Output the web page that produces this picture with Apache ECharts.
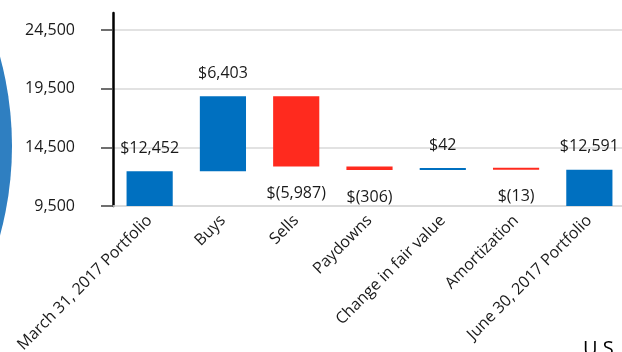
<!DOCTYPE html>
<html>
<head>
<meta charset="utf-8">
<script src="https://cdn.jsdelivr.net/npm/echarts@6/dist/echarts.min.js"></script>
<style>
  html, body { margin: 0; padding: 0; background: #fff; }
  #chart { width: 622px; height: 352px; }
</style>
</head>
<body>
<div id="chart"></div>
<script>
// Portfolio roll-forward, $ thousands
const categories = [
  'March 31, 2017 Portfolio', 'Buys', 'Sells', 'Paydowns',
  'Change in fair value', 'Amortization', 'June 30, 2017 Portfolio'
];
const changes = [12452, 6403, -5987, -306, 42, -13, 12591];
const isTotal = [true, false, false, false, false, false, true];
const yTickValues = [9500, 14500, 19500, 24500];

const BLUE = '#0070c0';
const RED = '#ff2a1e';
const FONT = 'Open Sans';

// Build the invisible base + visible step for each column
const baseData = [];
const stepData = [];
let running = 0;
changes.forEach((v, i) => {
  if (isTotal[i]) {
    baseData.push(0);
    stepData.push({ value: v, itemStyle: { color: BLUE } });
    running = v;
  } else {
    const next = running + v;
    baseData.push(Math.min(running, next));
    stepData.push({ value: Math.abs(v), itemStyle: { color: v >= 0 ? BLUE : RED } });
    running = next;
  }
});

function money(v) {
  const s = Math.abs(v).toLocaleString('en-US');
  return v < 0 ? '$(' + s + ')' : '$' + s;
}

const chart = echarts.init(document.getElementById('chart'), null, { renderer: 'canvas' });
chart.setOption({
  animation: false,
  backgroundColor: '#fff',
  textStyle: { fontFamily: FONT },
  graphic: [
    {
      type: 'circle',
      shape: { cx: -328, cy: 146, r: 340 },
      style: { fill: '#2f7fc1' },
      z: -10
    },
    {
      type: 'text',
      x: 583, y: 339,
      style: { text: 'U.S.', font: '20px "Open Sans"', fill: '#000', textVerticalAlign: 'top' }
    }
  ],
  grid: {
    left: 113, right: -4, top: 13, bottom: 146,
    containLabel: false,
    outerBoundsMode: 'none'
  },
  xAxis: {
    type: 'category',
    data: categories,
    axisLine: { show: true, onZero: false, lineStyle: { color: '#d9d9d9', width: 1.5 } },
    axisTick: { show: false },
    axisLabel: {
      interval: 0, rotate: 45, margin: 12,
      fontSize: 16, fontFamily: FONT, color: '#1a1a1a'
    }
  },
  yAxis: {
    type: 'value',
    min: 9500,
    max: 25950,
    axisLine: { show: true, onZero: false, lineStyle: { color: '#000', width: 2.5 } },
    axisTick: {
      show: true, inside: false, length: 12,
      customValues: yTickValues,
      lineStyle: { color: '#404040', width: 1.5 }
    },
    axisLabel: {
      customValues: yTickValues,
      margin: 38, fontSize: 16, fontFamily: FONT, color: '#1a1a1a',
      formatter: v => v.toLocaleString('en-US')
    },
    splitLine: { show: true, lineStyle: { color: '#d9d9d9', width: 1.5 } }
  },
  series: [
    {
      type: 'bar',
      stack: 'flow',
      data: baseData,
      itemStyle: { color: 'rgba(0,0,0,0)' },
      emphasis: { disabled: true },
      silent: true,
      barCategoryGap: '37%'
    },
    {
      type: 'bar',
      stack: 'flow',
      data: stepData.map((d, i) => Object.assign({}, d, {
        label: {
          show: true,
          position: changes[i] < 0 ? 'bottom' : 'top',
          distance: changes[i] < 0 ? 19 : 15,
          formatter: () => money(changes[i]),
          fontSize: 16, fontFamily: FONT, color: '#1a1a1a'
        }
      })),
      barMinHeight: 2,
      barCategoryGap: '37%'
    }
  ]
});
</script>
</body>
</html>
